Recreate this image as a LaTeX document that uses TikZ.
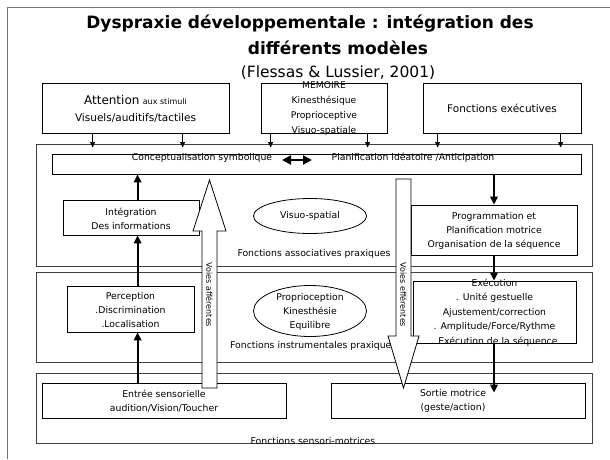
\documentclass[tikz,border=0pt]{standalone}
\usepackage{fontspec}
\setmainfont{DejaVu Sans}
\usetikzlibrary{arrows.meta,shapes.geometric}
\begin{document}
\begin{tikzpicture}[x=1pt,y=-1pt,
  box/.style={draw=black, line width=0.8pt, inner sep=0pt, rectangle},
  zone/.style={draw=black!75, line width=1pt, inner sep=0pt, rectangle},
  oval/.style={draw=black, line width=0.8pt, inner sep=0pt, ellipse},
  txt/.style={inner sep=0pt, align=center, font=\fontsize{9.3}{14.3}\selectfont},
  toptxt/.style={inner sep=0pt, align=center, font=\fontsize{10.5}{16}\selectfont},
  voie/.style={inner sep=0pt, rotate=-90, font=\fontsize{8}{10}\selectfont},
  thinarr/.style={line width=0.7pt, -{Triangle[length=5.5pt,width=5pt]}, shorten >=-4pt},
  thickarr/.style={line width=1.8pt, -{Triangle[length=8pt,width=7.5pt]}},
  dblarr/.style={line width=2pt, {Triangle[length=9pt,width=9pt]}-{Triangle[length=9pt,width=9pt]}},
  hollow/.style={draw=black, line width=0.8pt, fill=white},
]
\useasboundingbox (0,0) rectangle (610,459);
% frame
\draw[black!55, line width=1pt] (7,459) -- (7,7) -- (610,7);

% titles
\node[inner sep=0pt, anchor=base, font=\fontsize{17}{20}\selectfont\bfseries] (t1) at (310,28) {Dyspraxie développementale : intégration des};
\node[inner sep=0pt, anchor=base, font=\fontsize{17}{20}\selectfont\bfseries] (t2) at (338,54) {différents modèles};
\node[inner sep=0pt, anchor=base, font=\fontsize{15.5}{18}\selectfont] (t3) at (338,77) {(Flessas \& Lussier, 2001)};

% zones
\node[zone, minimum width=556pt, minimum height=122pt] (z1) at (314,205) {};
\node[zone, minimum width=556pt, minimum height=90pt] (z2) at (314,317) {};
\node[zone, minimum width=556pt, minimum height=70pt] (z3) at (314,408) {};

% top boxes
\node[box, minimum width=187pt, minimum height=50pt] (att) at (135.5,108) {};
\node[box, minimum width=126pt, minimum height=50pt] (mem) at (324,108) {};
\node[box, minimum width=158pt, minimum height=50pt] (exe) at (502,108) {};

% inner boxes
\node[box, minimum width=529pt, minimum height=20pt] (concept) at (316.5,164) {};
\node[box, minimum width=136pt, minimum height=35pt] (integ) at (131,217.5) {};
\node[box, minimum width=166pt, minimum height=50pt] (prog) at (494,230) {};
\node[box, minimum width=127pt, minimum height=46pt] (percep) at (130.5,309) {};
\node[box, minimum width=163pt, minimum height=62pt] (exec) at (494.5,312) {};
\node[box, minimum width=244pt, minimum height=35pt] (entree) at (164,400.5) {};
\node[box, minimum width=254pt, minimum height=35pt] (sortie) at (458,400.5) {};

% ellipses
\node[oval, minimum width=113pt, minimum height=35pt] (vis) at (310,216) {};
\node[oval, minimum width=113pt, minimum height=51pt] (prop) at (310,311) {};

% zone labels
\node[txt] (l1) at (314,254) {Fonctions associatives praxiques};
\node[txt, anchor=west] (l2) at (230,346) {Fonctions instrumentales praxiques};
\node[txt] (l3) at (313,441) {Fonctions sensori-motrices};

% hollow arrows
\draw[hollow] (202,388) -- (202,231) -- (193,231) -- (209.5,180) -- (226,231) -- (217,231) -- (217,388) -- cycle;
\coordinate (aff) at (209.5,295);
\draw[hollow] (396,179) -- (411,179) -- (411,336) -- (419,336) -- (403.5,388) -- (388,336) -- (396,336) -- cycle;
\coordinate (eff) at (403.5,295);
\node[voie] (affT) at (aff) {Voies afférentes};
\node[voie] (effT) at (eff) {Voies efférentes};

% box texts
\node[toptxt] (attT) at (135.5,108.5) {{\fontsize{12}{16}\selectfont Attention} {\fontsize{8}{16}\selectfont aux stimuli}\\[1pt]Visuels/auditifs/tactiles};
\node[txt, font=\fontsize{9.2}{14.7}\selectfont] (memT) at (324,108.5) {MEMOIRE\\Kinesthésique\\Proprioceptive\\Visuo-spatiale};
\node[toptxt] (exeT) at (exe.center) {Fonctions exécutives};
\node[txt] (c1) at (202,158) {Conceptualisation symbolique};
\node[txt] (c2) at (413,158) {Planification idéatoire /Anticipation};
\node[txt] (integT) at (131,218.5) {Intégration\\Des informations};
\node[txt] (visT) at (vis.center) {Visuo-spatial};
\node[txt] (progT) at (494,231) {Programmation et\\Planification motrice\\Organisation de la séquence};
\node[txt] (percepT) at (130.5,310) {Perception\\.Discrimination\\.Localisation};
\node[txt, font=\fontsize{9.3}{14}\selectfont] (propT) at (310,312) {Proprioception\\Kinesthésie\\Equilibre};
\node[txt, font=\fontsize{9.3}{14.5}\selectfont] (execT) at (494.5,312.5) {Exécution\\. Unité gestuelle\\Ajustement/correction\\. Amplitude/Force/Rythme\\. Exécution de la séquence};
\node[txt] (entreeT) at (164,401) {Entrée sensorielle\\audition/Vision/Toucher};
\node[txt] (sortieT) at (453,401) {Sortie motrice\\(geste/action)};

% thin arrows from top boxes
\draw[thinarr] ([xshift=51pt]att.south west) -- ([xshift=51pt]att.south west |- z1.north);
\draw[thinarr] ([xshift=141pt]att.south west) -- ([xshift=141pt]att.south west |- z1.north);
\draw[thinarr] ([xshift=10pt]mem.south west) -- ([xshift=10pt]mem.south west |- z1.north);
\draw[thinarr] ([xshift=107pt]mem.south west) -- ([xshift=107pt]mem.south west |- z1.north);
\draw[thinarr] ([xshift=15pt]exe.south west) -- ([xshift=15pt]exe.south west |- z1.north);
\draw[thinarr] ([xshift=138pt]exe.south west) -- ([xshift=138pt]exe.south west |- z1.north);

% double arrow
\coordinate (dl) at (282,160);
\coordinate (dr) at (312,160);
\draw[dblarr] (dl) -- (dr);

% thick arrows
\draw[thickarr] ([xshift=75pt]integ.north west) -- ([xshift=75pt]integ.north west |- concept.south);
\draw[thickarr] ([xshift=71pt]percep.north west) -- ([xshift=71pt]percep.north west |- integ.south);
\draw[thickarr] ([xshift=96pt]entree.north west) -- ([xshift=96pt]entree.north west |- percep.south);
\draw[thickarr] (concept.south -| prog.north) -- (prog.north);
\draw[thickarr] (prog.south) -- (prog.south |- exec.north);
\draw[thickarr, shorten >=-10pt] (prog.south |- exec.south) -- (prog.south |- sortie.north);
\end{tikzpicture}
\end{document}
